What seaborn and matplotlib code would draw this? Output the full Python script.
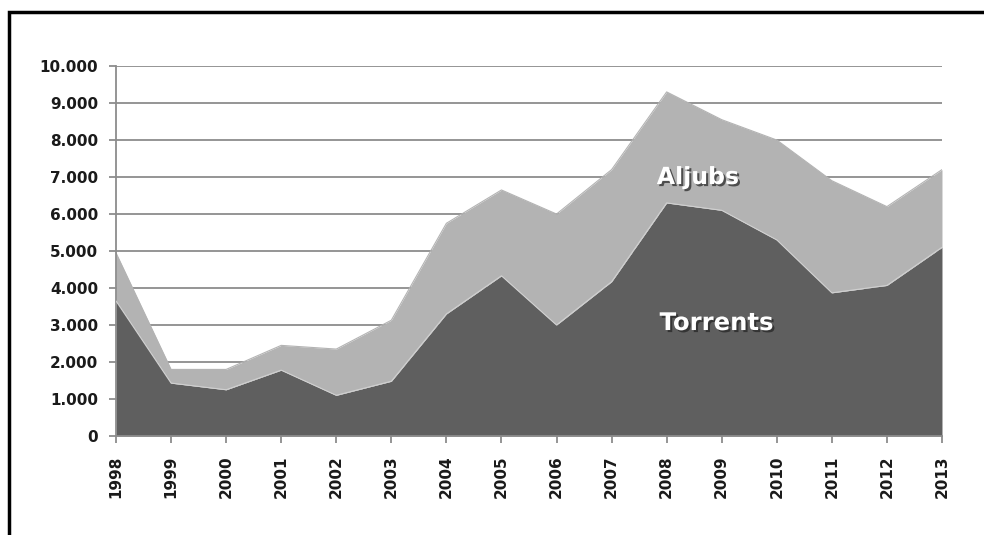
import matplotlib
matplotlib.use("Agg")
import matplotlib.pyplot as plt
import matplotlib.patheffects as pe
from matplotlib.patches import Rectangle
from matplotlib.ticker import FuncFormatter
import seaborn as sns
import pandas as pd

years = list(range(1998, 2014))
torrents = [3650, 1430, 1250, 1780, 1100, 1480, 3300, 4330, 3000, 4170, 6300, 6100, 5300, 3870, 4070, 5100]
aljubs = [1300, 370, 550, 670, 1250, 1650, 2450, 2320, 3000, 3030, 3000, 2450, 2700, 3030, 2130, 2100]
yticks = list(range(0, 10001, 1000))

df = pd.DataFrame({"year": years, "Torrents": torrents, "Aljubs": aljubs})
df["Total"] = df["Torrents"] + df["Aljubs"]

sns.set_theme(style="white")
plt.rcParams['font.family'] = ['DejaVu Sans']

fig = plt.figure(figsize=(9.84, 5.35), dpi=100)
ax = fig.add_axes([0.1179, 0.185, 0.8394, 0.6916])

dark = "#5f5f5f"
light = "#b3b3b3"

ax.stackplot(df["year"], df["Torrents"], df["Aljubs"], colors=[dark, light], linewidth=0, zorder=2)
sns.lineplot(x=df["year"], y=df["Total"], ax=ax, color=light, linewidth=0.8, zorder=2)
sns.lineplot(x=df["year"], y=df["Torrents"], ax=ax, color="#d0d0d0", linewidth=0.8, zorder=3)

ax.set_xlim(1998, 2013)
ax.set_ylim(0, 10000)
ax.set_xticks(years)
ax.set_xticklabels([str(y) for y in years], rotation=90, fontsize=11, fontweight="bold")
ax.set_yticks(yticks)
ax.yaxis.set_major_formatter(FuncFormatter(lambda v, p: f"{int(v):,}".replace(",", ".")))
for lab in ax.get_yticklabels():
    lab.set_fontweight("bold")
    lab.set_fontsize(11)
ax.set_xlabel("")
ax.set_ylabel("")

ax.grid(axis="y", color="#8c8c8c", linewidth=1.3, zorder=1)
ax.set_axisbelow(True)
for s in ["top", "right"]:
    ax.spines[s].set_visible(False)
for s in ["left", "bottom"]:
    ax.spines[s].set_color("#8c8c8c")
    ax.spines[s].set_linewidth(1.3)
ax.tick_params(axis="both", which="major", direction="out", length=5, width=1.3,
               color="#8c8c8c", labelcolor="#1a1a1a", left=True, bottom=True)
ax.tick_params(axis="x", pad=9)
ax.tick_params(axis="y", pad=8)

shadow = [pe.withSimplePatchShadow(offset=(1.5, -1.5), shadow_rgbFace="#222222", alpha=0.7)]
ax.text(2008.57, 7000, "Aljubs", color="white", fontsize=17, fontweight="bold",
        ha="center", va="center", path_effects=shadow, zorder=5)
ax.text(2008.9, 3054, "Torrents", color="white", fontsize=17.5, fontweight="bold",
        ha="center", va="center", path_effects=shadow, zorder=5)

fig.patches.append(Rectangle((9 / 984, -0.1), 1.2, 1 - 12 / 535 + 0.1, transform=fig.transFigure,
                             fill=False, edgecolor="black", linewidth=2.5))

fig.savefig("out.png", dpi=100)
